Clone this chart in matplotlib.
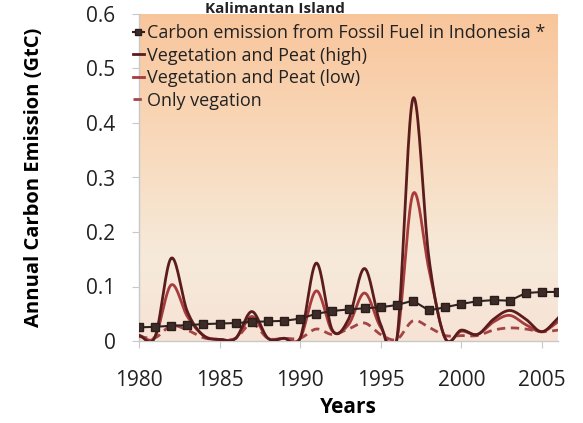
import numpy as np
import matplotlib
matplotlib.use("Agg")
import matplotlib.pyplot as plt
from matplotlib.colors import LinearSegmentedColormap

years = list(range(1980, 2007))
fossil = [0.025, 0.026, 0.028, 0.029, 0.031, 0.032, 0.033, 0.035, 0.036, 0.037,
          0.041, 0.050, 0.055, 0.058, 0.060, 0.062, 0.066, 0.074, 0.056, 0.062,
          0.068, 0.073, 0.075, 0.074, 0.088, 0.090, 0.090]
veg_peat_high = [0.010, 0.008, 0.152, 0.054, 0.010, 0.003, 0.005, 0.054, 0.005, 0.005,
                 0.005, 0.143, 0.020, 0.040, 0.133, 0.030, 0.003, 0.445, 0.150, 0.005,
                 0.020, 0.012, 0.040, 0.056, 0.040, 0.017, 0.042]
veg_peat_low = [0.010, 0.008, 0.103, 0.045, 0.010, 0.003, 0.005, 0.045, 0.005, 0.005,
                0.005, 0.092, 0.018, 0.030, 0.088, 0.025, 0.003, 0.270, 0.130, 0.005,
                0.018, 0.012, 0.035, 0.047, 0.030, 0.017, 0.035]
only_veg = [0.008, 0.006, 0.028, 0.020, 0.006, 0.003, 0.005, 0.032, 0.005, 0.005,
            0.005, 0.022, 0.012, 0.022, 0.033, 0.012, 0.003, 0.037, 0.025, 0.010,
            0.010, 0.010, 0.020, 0.024, 0.022, 0.017, 0.020]
xticks = [1980, 1985, 1990, 1995, 2000, 2005]
yticks = [0, 0.1, 0.2, 0.3, 0.4, 0.5, 0.6]
labels = ["Carbon emission from Fossil Fuel in Indonesia *",
          "Vegetation and Peat (high)",
          "Vegetation and Peat (low)",
          "Only vegation"]


def smooth(x, y, n=20):
    """Catmull-Rom smoothing (like Excel's smoothed line) for rendering."""
    x = np.asarray(x, float)
    y = np.asarray(y, float)
    P = np.concatenate([[2 * y[0] - y[1]], y, [2 * y[-1] - y[-2]]])
    xs, ys = [], []
    for i in range(len(x) - 1):
        t = np.linspace(0, 1, n, endpoint=False)
        p0, p1, p2, p3 = P[i], P[i + 1], P[i + 2], P[i + 3]
        yy = 0.5 * ((2 * p1) + (-p0 + p2) * t + (2 * p0 - 5 * p1 + 4 * p2 - p3) * t ** 2
                    + (-p0 + 3 * p1 - 3 * p2 + p3) * t ** 3)
        xs.append(x[i] + (x[i + 1] - x[i]) * t)
        ys.append(yy)
    xs.append([x[-1]])
    ys.append([y[-1]])
    return np.concatenate(xs), np.concatenate(ys)


plt.rcParams['font.family'] = ['Open Sans', 'DejaVu Sans']

fig = plt.figure(figsize=(5.83, 4.23), dpi=100)
ax = fig.add_axes([139 / 583, (423 - 341) / 423, 419 / 583, 327 / 423])

# gradient background
cmap = LinearSegmentedColormap.from_list(
    "bg", [(0.0, "#f7e3d5"), (0.25, "#f6eadb"), (0.55, "#f8dcc0"), (1.0, "#f9c59b")])
grad = np.linspace(0, 1, 256).reshape(-1, 1)
ax.imshow(grad, aspect='auto', cmap=cmap, origin='lower',
          extent=[0, 1, 0, 1], transform=ax.transAxes, zorder=0)

c_high = "#5a1c1c"
c_low = "#a83c3c"
c_veg = "#a34545"
c_fos = "#2e2220"

ax.plot(years, fossil, color=c_fos, lw=1.5, marker='s', ms=5.5,
        mfc="#3d2b27", mec="#2a1d1a", label=labels[0], zorder=5)
xh, yh = smooth(years, veg_peat_high)
ax.plot(xh, yh, color=c_high, lw=2.0, label=labels[1], zorder=4)
xl, yl = smooth(years, veg_peat_low)
ax.plot(xl, yl, color=c_low, lw=2.0, label=labels[2], zorder=3)
xv, yv = smooth(years, only_veg)
ax.plot(xv, yv, color=c_veg, lw=2.0, ls=(0, (3, 2)), label=labels[3], zorder=3)

ax.set_xlim(1980, 2006)
ax.set_ylim(0, 0.6)
ax.set_xticks(xticks)
ax.set_xticklabels([str(v) for v in xticks])
ax.set_yticks(yticks)
ax.set_yticklabels(["0", "0.1", "0.2", "0.3", "0.4", "0.5", "0.6"])

for s in ["top", "right"]:
    ax.spines[s].set_visible(False)
for s in ["left", "bottom"]:
    ax.spines[s].set_color("#c8c8c8")
    ax.spines[s].set_linewidth(1.0)
ax.tick_params(axis='both', direction='out', length=5, color="#c8c8c8",
               labelsize=15, labelcolor="#222222")
ax.tick_params(axis='x', pad=16)
ax.tick_params(axis='y', pad=12)

ax.set_xlabel("Years", fontsize=15, fontweight='bold', labelpad=4)
ax.set_ylabel("Annual Carbon Emission (GtC)", fontsize=14.5, fontweight='bold', labelpad=30)

fig.text(275 / 583, 1 - 13 / 423, "Kalimantan Island", ha='center', va='baseline',
         fontsize=11, fontweight='bold', color="#222222")

leg = ax.legend(loc='upper left', bbox_to_anchor=(133 / 583, 1 - 24 / 423),
                bbox_transform=fig.transFigure, frameon=False,
                handlelength=0.6, handletextpad=0.15, labelspacing=0.25,
                borderpad=0, borderaxespad=0, fontsize=13, markerscale=0.7)
for t in leg.get_texts():
    t.set_color("#222222")

fig.savefig("out.png", dpi=100)
